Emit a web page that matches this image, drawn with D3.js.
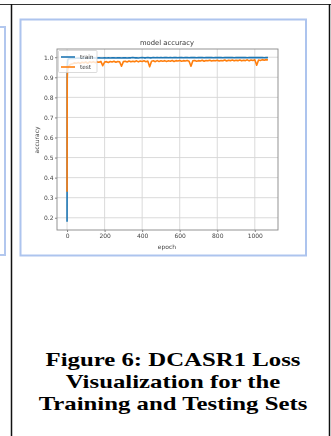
<!DOCTYPE html>
<html>
<head>
<meta charset="utf-8">
<script src="https://cdn.jsdelivr.net/npm/d3@7/dist/d3.min.js"></script>
<style>
  html, body { margin: 0; padding: 0; background: #fff; }
  svg { display: block; }
</style>
</head>
<body>
<div id="chart"></div>
<script>
const epochs = [0, 1, 2, 3, 4, 5, 6, 8,
  10, 20, 30, 40, 50, 60, 70, 80, 90, 100, 110, 120, 130, 140, 150, 160, 170, 180, 190, 200,
  210, 220, 230, 240, 250, 260, 270, 280, 290, 300, 310, 320, 330, 340, 350, 360, 370, 380, 390, 400,
  410, 420, 430, 440, 450, 460, 470, 480, 490, 500, 510, 520, 530, 540, 550, 560, 570, 580, 590, 600,
  610, 620, 630, 640, 650, 660, 670, 680, 690, 700, 710, 720, 730, 740, 750, 760, 770, 780, 790, 800,
  810, 820, 830, 840, 850, 860, 870, 880, 890, 900, 910, 920, 930, 940, 950, 960, 970, 980, 990, 1000,
  1010, 1020, 1030, 1040, 1050, 1060, 1070];

const trainAcc = [0.18, 0.93, 0.965, 0.978, 0.985, 0.988, 0.990, 0.992,
  0.993, 0.994, 0.995, 0.994, 0.995, 0.996, 0.995, 0.996, 0.995, 0.996, 0.996, 0.995, 0.996, 0.997, 0.996, 0.996, 0.997, 0.996, 0.996, 0.997,
  0.996, 0.997, 0.996, 0.997, 0.997, 0.996, 0.997, 0.997, 0.996, 0.997, 0.997, 0.996, 0.997, 0.997, 0.998, 0.997, 0.997, 0.996, 0.997, 0.998,
  0.997, 0.997, 0.998, 0.997, 0.997, 0.998, 0.997, 0.998, 0.997, 0.998, 0.997, 0.998, 0.998, 0.997, 0.998, 0.997, 0.998, 0.998, 0.997, 0.998,
  0.998, 0.997, 0.998, 0.998, 0.997, 0.998, 0.998, 0.998, 0.997, 0.998, 0.998, 0.998, 0.997, 0.998, 0.998, 0.998, 0.998, 0.997, 0.998, 0.998,
  0.998, 0.998, 0.997, 0.998, 0.998, 0.998, 0.998, 0.998, 0.997, 0.998, 0.998, 0.998, 0.998, 0.998, 0.998, 0.997, 0.998, 0.998, 0.998, 0.998,
  0.998, 0.998, 0.998, 0.998, 0.997, 0.998, 0.998];

const testAcc = [0.33, 0.90, 0.920, 0.935, 0.940, 0.945, 0.950, 0.953,
  0.958, 0.965, 0.968, 0.972, 0.970, 0.974, 0.969, 0.975, 0.972, 0.976, 0.970, 0.977, 0.974, 0.978, 0.973, 0.977, 0.975, 0.979, 0.958, 0.976,
  0.978, 0.974, 0.979, 0.976, 0.980, 0.975, 0.979, 0.977, 0.955, 0.978, 0.980, 0.976, 0.981, 0.977, 0.980, 0.978, 0.982, 0.977, 0.981, 0.979,
  0.982, 0.978, 0.981, 0.953, 0.980, 0.982, 0.978, 0.983, 0.979, 0.982, 0.980, 0.983, 0.979, 0.982, 0.980, 0.984, 0.979, 0.983, 0.981, 0.984,
  0.980, 0.983, 0.981, 0.984, 0.980, 0.955, 0.982, 0.984, 0.980, 0.983, 0.981, 0.985, 0.980, 0.984, 0.982, 0.985, 0.981, 0.984, 0.982, 0.985,
  0.981, 0.984, 0.982, 0.986, 0.981, 0.985, 0.983, 0.986, 0.982, 0.985, 0.983, 0.986, 0.982, 0.985, 0.983, 0.987, 0.982, 0.986, 0.984, 0.987,
  0.960, 0.986, 0.984, 0.988, 0.985, 0.988, 0.986];

const xTicks = [0, 200, 400, 600, 800, 1000];
const yTicks = [0.2, 0.3, 0.4, 0.5, 0.6, 0.7, 0.8, 0.9, 1.0];
const seriesNames = ['train', 'test'];
const seriesColors = ['#1f77b4', '#ff7f0e'];
const captionLines = ['Figure 6: DCASR1 Loss', 'Visualization for the', 'Training and Testing Sets'];

const W = 331, H = 436;
const plot = {left: 57, right: 278, top: 49, bottom: 230};
const tickFont = '"DejaVu Sans", sans-serif';

let svg = d3.select('#chart').append('svg')
  .attr('width', W).attr('height', H);

svg.append('rect').attr('width', W).attr('height', H).attr('fill', '#fff');

let defs = svg.append('defs');
defs.append('filter').attr('id', 'soft')
  .attr('x', '-5%').attr('y', '-5%').attr('width', '110%').attr('height', '110%')
  .append('feGaussianBlur').attr('stdDeviation', 0.4);

// page frame: table borders and the edge of the neighbouring figure
let frame = svg.append('g').attr('class', 'frame');
frame.append('path')
  .attr('d', 'M0,27H5V255H0')
  .attr('fill', 'none').attr('stroke', '#b2c7ee').attr('stroke-width', 2);
frame.append('line').attr('x1', 0).attr('x2', W).attr('y1', 4.5).attr('y2', 4.5)
  .attr('stroke', '#333').attr('stroke-width', 1.2);
frame.append('line').attr('x1', 11.5).attr('x2', 11.5).attr('y1', 4).attr('y2', H)
  .attr('stroke', '#111').attr('stroke-width', 1.5);
frame.append('line').attr('x1', 329.5).attr('x2', 329.5).attr('y1', 4).attr('y2', H)
  .attr('stroke', '#111').attr('stroke-width', 1.5);

// the pasted chart picture with its light blue border
frame.append('rect')
  .attr('x', 20.5).attr('y', 19.5).attr('width', 285.5).attr('height', 236)
  .attr('fill', '#fff').attr('stroke', '#adc4ee').attr('stroke-width', 2);

let g = svg.append('g').attr('class', 'plot').attr('filter', 'url(#soft)');

let x = d3.scaleLinear().domain([-53.5, 1123.5]).range([plot.left, plot.right]);
let y = d3.scaleLinear().domain([0.139, 1.041]).range([plot.bottom, plot.top]);

// grid
g.append('g').selectAll('line.gx').data(xTicks).join('line').attr('class', 'gx')
  .attr('x1', d => x(d)).attr('x2', d => x(d))
  .attr('y1', plot.top).attr('y2', plot.bottom)
  .attr('stroke', '#d6d6d6').attr('stroke-width', 0.9);
g.append('g').selectAll('line.gy').data(yTicks).join('line').attr('class', 'gy')
  .attr('y1', d => y(d)).attr('y2', d => y(d))
  .attr('x1', plot.left).attr('x2', plot.right)
  .attr('stroke', '#d6d6d6').attr('stroke-width', 0.9);

// axes
let xAxis = g.append('g').attr('transform', `translate(0,${plot.bottom})`)
  .call(d3.axisBottom(x).tickValues(xTicks).tickSize(2).tickPadding(2).tickFormat(d3.format('d')));
let yAxis = g.append('g').attr('transform', `translate(${plot.left},0)`)
  .call(d3.axisLeft(y).tickValues(yTicks).tickSize(2).tickPadding(1.5).tickFormat(d3.format('.1f')));
[xAxis, yAxis].forEach(a => {
  a.select('.domain').remove();
  a.selectAll('line').attr('stroke', '#666').attr('stroke-width', 0.8);
  a.selectAll('text').attr('fill', '#444').style('font-family', tickFont).style('font-size', '6px');
});

// spines
g.append('rect')
  .attr('x', plot.left).attr('y', plot.top)
  .attr('width', plot.right - plot.left).attr('height', plot.bottom - plot.top)
  .attr('fill', 'none').attr('stroke', '#888').attr('stroke-width', 0.9);

// series
let line = d3.line().x(d => x(d[0])).y(d => y(d[1]));
let series = [trainAcc, testAcc].map(vals => epochs.map((e, i) => [e, vals[i]]));
g.append('g').selectAll('path.series').data(series).join('path').attr('class', 'series')
  .attr('d', line)
  .attr('fill', 'none')
  .attr('stroke', (d, i) => seriesColors[i])
  .attr('stroke-width', 1.6)
  .attr('stroke-linejoin', 'round');

// labels
g.append('text').attr('x', 167).attr('y', 44.5).attr('text-anchor', 'middle')
  .attr('fill', '#333').style('font-family', tickFont).style('font-size', '6.8px')
  .text('model accuracy');
g.append('text').attr('x', 167).attr('y', 249).attr('text-anchor', 'middle')
  .attr('fill', '#444').style('font-family', tickFont).style('font-size', '6px')
  .text('epoch');
g.append('text').attr('transform', 'translate(39,140) rotate(-90)').attr('text-anchor', 'middle')
  .attr('fill', '#444').style('font-family', tickFont).style('font-size', '6px')
  .text('accuracy');

// legend
let leg = g.append('g').attr('class', 'legend');
leg.append('rect').attr('x', 58.5).attr('y', 50.5).attr('width', 38.5).attr('height', 22).attr('rx', 1)
  .attr('fill', '#fff').attr('fill-opacity', 0.8).attr('stroke', '#ccc').attr('stroke-width', 0.7);
let items = leg.selectAll('g.item').data(seriesNames).join('g').attr('class', 'item')
  .attr('transform', (d, i) => `translate(61,${57 + i * 10})`);
items.append('line').attr('x1', 0).attr('x2', 14)
  .attr('stroke', (d, i) => seriesColors[i]).attr('stroke-width', 1.6);
items.append('text').attr('x', 19).attr('dy', '0.35em')
  .attr('fill', '#444').style('font-family', tickFont).style('font-size', '5.8px')
  .text(d => d);

// caption
svg.append('g').attr('class', 'caption')
  .selectAll('text').data(captionLines).join('text')
  .attr('transform', (d, i) => `translate(173,${366 + i * 22}) scale(1.34,1)`)
  .attr('text-anchor', 'middle')
  .attr('fill', '#000')
  .style('font-family', '"Liberation Serif", "Times New Roman", serif')
  .style('font-weight', 'bold')
  .style('font-size', '18.5px')
  .text(d => d);
</script>
</body>
</html>
